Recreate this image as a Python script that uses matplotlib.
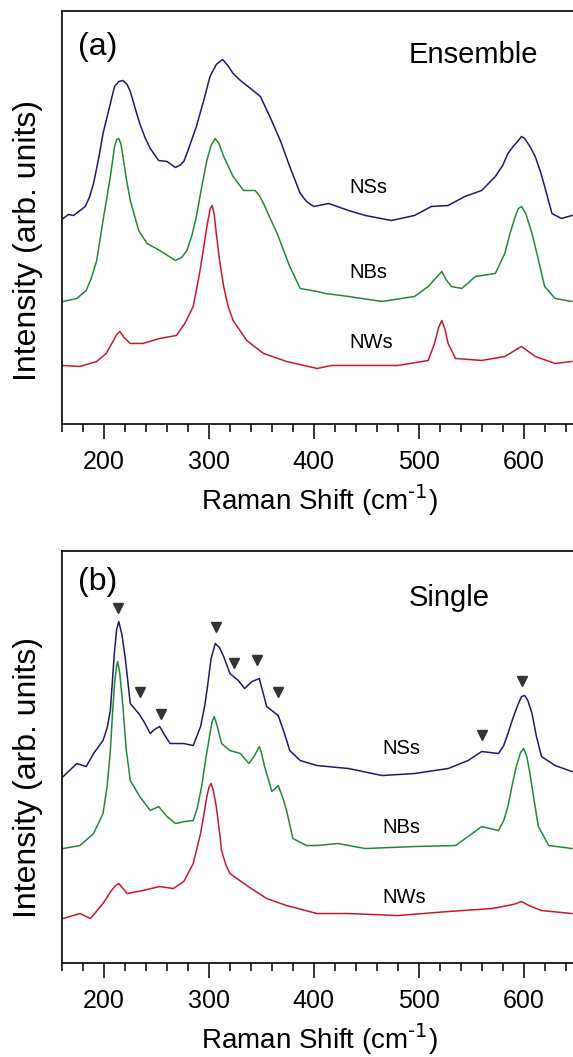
import numpy as np
import matplotlib
matplotlib.use("Agg")
import matplotlib.pyplot as plt
from matplotlib.ticker import MultipleLocator

plt.rcParams['font.family'] = ['Liberation Sans', 'DejaVu Sans']

# ---- panel (a): ensemble spectra (Raman shift cm-1, intensity arb. units) ----
a_nss_x = [161, 166, 171, 176, 182, 186, 190, 195, 199, 206, 210, 214, 218, 222, 225, 230, 234, 239, 244, 252,
           260, 268, 272, 276, 280, 288, 295, 301, 307, 313, 318, 323, 330, 336, 342, 349, 358, 368, 377, 387,
           393, 400, 414, 433, 449, 474, 496, 512, 528, 544, 560, 573, 580, 585, 590, 595, 598, 601, 606, 611,
           616, 620, 627, 636, 646]
a_nss_y = [209, 213, 212, 216, 221, 230, 244, 270, 294, 324, 341, 346, 347, 343, 336, 318, 304, 290, 279, 267,
           266, 260, 262, 266, 277, 301, 327, 351, 363, 368, 362, 354, 347, 342, 337, 331, 311, 287, 261, 234,
           226, 221, 224, 217, 212, 207, 212, 221, 222, 231, 237, 251, 262, 274, 281, 287, 291, 289, 281, 271,
           256, 241, 214, 209, 212]

a_nbs_x = [161, 174, 183, 188, 193, 199, 206, 210, 212, 214, 216, 218, 221, 225, 233, 241, 253, 268, 274, 279,
           284, 288, 293, 298, 302, 306, 310, 314, 323, 333, 344, 348, 352, 358, 365, 377, 387, 403, 411, 433,
           465, 496, 509, 515, 522, 526, 531, 541, 554, 573, 582, 587, 592, 595, 598, 602, 608, 614, 620, 630,
           646]
a_nbs_y = [126, 129, 137, 150, 167, 207, 251, 281, 288, 289, 284, 271, 250, 227, 197, 184, 177, 167, 170, 177,
           193, 211, 240, 267, 282, 289, 283, 271, 251, 237, 237, 232, 224, 210, 194, 161, 139, 136, 134, 131,
           126, 131, 141, 148, 156, 148, 141, 139, 151, 154, 174, 194, 211, 219, 221, 214, 194, 168, 141, 129,
           126]

a_nws_x = [161, 177, 193, 202, 209, 212, 215, 219, 225, 237, 253, 269, 277, 285, 291, 295, 298, 301, 303, 305,
           307, 310, 314, 318, 323, 336, 352, 374, 403, 417, 449, 480, 509, 515, 519, 522, 525, 528, 535, 560,
           582, 598, 611, 630, 646]
a_nws_y = [62, 61, 66, 74, 87, 93, 96, 90, 84, 84, 89, 92, 104, 121, 154, 180, 201, 218, 222, 213,
           194, 168, 141, 122, 107, 87, 74, 66, 59, 62, 62, 62, 67, 84, 100, 107, 98, 84, 69, 67,
           71, 81, 71, 64, 66]

# ---- panel (b): single-nanostructure spectra ----
b_nss_x = [161, 174, 183, 190, 199, 203, 206, 208, 210, 212, 214, 217, 220, 225, 229, 233, 238, 244, 248, 253,
           258, 263, 276, 285, 292, 296, 299, 302, 306, 310, 314, 320, 328, 334, 341, 348, 351, 355, 366, 372,
           377, 387, 403, 433, 465, 496, 528, 547, 560, 576, 581, 585, 590, 595, 598, 601, 604, 608, 612, 617,
           630, 646]
b_nss_y = [194, 207, 204, 217, 230, 243, 260, 290, 320, 341, 349, 336, 314, 267, 262, 257, 249, 237, 241, 244,
           235, 227, 227, 225, 244, 265, 287, 312, 327, 323, 314, 297, 290, 282, 289, 292, 280, 264, 255, 237,
           220, 210, 205, 202, 195, 197, 202, 210, 219, 217, 225, 237, 253, 267, 274, 275, 270, 257, 235, 214,
           205, 199]

b_nbs_x = [161, 177, 190, 199, 203, 206, 208, 210, 212, 213, 215, 218, 221, 225, 234, 244, 252, 260, 268, 277,
           285, 289, 293, 297, 301, 303, 305, 308, 312, 320, 330, 338, 343, 348, 350, 353, 360, 366, 370, 374,
           380, 393, 403, 423, 449, 496, 535, 551, 560, 576, 581, 585, 589, 593, 597, 600, 603, 606, 610, 614,
           624, 646]
b_nbs_y = [122, 125, 137, 157, 185, 220, 256, 287, 305, 309, 297, 264, 222, 190, 174, 160, 164, 154, 147, 149,
           150, 163, 184, 212, 237, 249, 254, 244, 227, 220, 217, 207, 214, 224, 218, 204, 179, 185, 174, 160,
           132, 125, 125, 127, 122, 124, 125, 137, 144, 140, 150, 164, 185, 204, 218, 222, 214, 197, 170, 144,
           125, 122]

b_nws_x = [161, 177, 187, 199, 207, 211, 214, 218, 222, 237, 253, 266, 276, 285, 292, 295, 298, 300, 302, 304,
           307, 310, 312, 316, 320, 336, 355, 374, 403, 433, 480, 528, 570, 590, 598, 605, 617, 646]
b_nws_y = [52, 57, 52, 67, 80, 85, 87, 82, 77, 80, 84, 82, 89, 107, 137, 155, 174, 183, 187, 181,
           164, 139, 120, 106, 97, 85, 72, 65, 57, 57, 55, 59, 62, 66, 69, 65, 60, 57]

# peak markers on the single NS spectrum
mark_x = [213.6, 234.3, 254.3, 306.4, 324.2, 345.5, 366.1, 560, 598.8]
mark_y = [363, 279, 257, 344, 308, 311, 279, 236, 290]

names = ["NSs", "NBs", "NWs"]
colors = ["#1b1d6b", "#23893a", "#c8182f"]

fig = plt.figure(figsize=(5.73, 10.57), dpi=100)
ax_a = fig.add_axes([0.1084, 0.5989, 0.897, 0.3907])
ax_b = fig.add_axes([0.1084, 0.0889, 0.897, 0.3898])

panels = [
    (ax_a, [(a_nss_x, a_nss_y), (a_nbs_x, a_nbs_y), (a_nws_x, a_nws_y)], "(a)", "Ensemble",
     (3.5, 416.5), 434, [239.5, 154.5, 84.5], (0.80, 0.893), 0.913, 0.445),
    (ax_b, [(b_nss_x, b_nss_y), (b_nbs_x, b_nbs_y), (b_nws_x, b_nws_y)], "(b)", "Single",
     (7.5, 419.5), 465, [222.5, 143.5, 73.5], (0.753, 0.886), 0.925, 0.451),
]

for ax, curves, tag, title, ylim, lab_x, lab_y, tpos, tag_y, ylab_y in panels:
    for (x, y), c in zip(curves, colors):
        ax.plot(x, y, color=c, lw=1.1)
    for n, ly in zip(names, lab_y):
        ax.text(lab_x, ly, n, fontsize=14.5, ha="left", va="center")
    ax.text(0.031, tag_y, tag, transform=ax.transAxes, fontsize=23, va="center")
    ax.text(tpos[0], tpos[1], title, transform=ax.transAxes, fontsize=21, ha="center", va="center")
    ax.set_xlim(160, 650)
    ax.set_ylim(*ylim)
    ax.xaxis.set_major_locator(MultipleLocator(100))
    ax.xaxis.set_minor_locator(MultipleLocator(20))
    ax.tick_params(axis="x", which="major", direction="out", length=11, width=1.1, pad=7.5, labelsize=18)
    ax.tick_params(axis="x", which="minor", direction="out", length=5.5, width=1.1)
    ax.set_yticks([])
    for s in ax.spines.values():
        s.set_linewidth(1.2)
    ax.set_xlabel("Raman Shift (cm$^{\\text{-1}}$)", fontsize=20, labelpad=6)
    ax.set_ylabel("Intensity (arb. units)", fontsize=23)
    ax.yaxis.set_label_coords(-0.037, ylab_y)

ax_b.plot(mark_x, mark_y, linestyle="none", marker="v", color="#333333", markersize=7)

fig.savefig("out.png", dpi=100)
